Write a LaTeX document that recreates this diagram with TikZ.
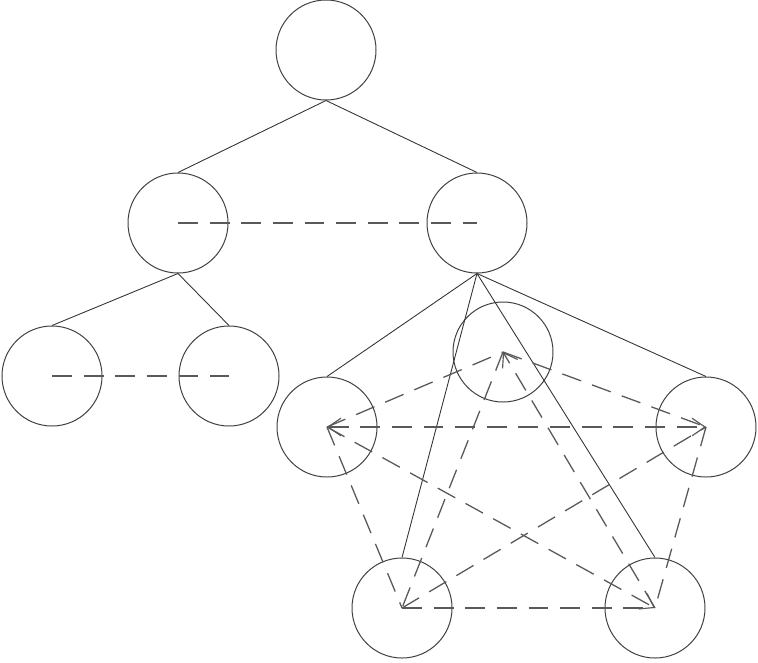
\documentclass[tikz,border=0pt]{standalone}
\usetikzlibrary{arrows.meta}
\begin{document}
\begin{tikzpicture}[x=0.03cm,y=-0.03cm,
  vert/.style={circle,draw=black!75,line width=0.85pt,minimum size=3cm,inner sep=0pt},
  tree/.style={draw=black!80,line width=0.75pt},
  rel/.style={draw=black!65,line width=1.1pt,dash pattern=on 17pt off 10pt},
  tip/.style={-{Straight Barb[length=11pt,width=15pt,line width=1pt]}},
  tips/.style={{Straight Barb[length=11pt,width=15pt,line width=1pt]}-{Straight Barb[length=11pt,width=15pt,line width=1pt]}}]
\useasboundingbox (0,0) rectangle (758,662);
% tree nodes
\node[vert] (A) at (326,50) {};
\node[vert] (B) at (178,223) {};
\node[vert] (C) at (477,223) {};
\node[vert] (D) at (52,376) {};
\node[vert] (E) at (229,376) {};
% pentagon nodes
\node[vert] (T) at (503,352) {};
\node[vert] (L) at (327,427) {};
\node[vert] (R) at (706,427) {};
\node[vert] (P) at (402,608) {};
\node[vert] (Q) at (655,608) {};
% tree edges
\draw[tree] (A.south) -- (B.north);
\draw[tree] (A.south) -- (C.north);
\draw[tree] (B.south) -- (D.north);
\draw[tree] (B.south) -- (E.north);
\draw[tree] (C.south) -- (L.north);
\draw[tree] (C.south) -- (P.north);
\draw[tree] (C.south) -- (Q.north);
\draw[tree] (C.south) -- (R.north);
% dashed relations
\draw[rel] (B.center) -- (C.center);
\draw[rel] (D.center) -- (E.center);
\draw[rel,tips] (L.center) -- (R.center);
\draw[rel,tip] (Q.center) -- (T.center);
\draw[rel,tip] (L.center) -- (Q.center);
\draw[rel] (L.center) -- (T.center);
\draw[rel] (T.center) -- (R.center);
\draw[rel] (T.center) -- (P.center);
\draw[rel] (L.center) -- (P.center);
\draw[rel] (P.center) -- (R.center);
\draw[rel] (R.center) -- (Q.center);
\draw[rel] (P.center) -- (Q.center);
\end{tikzpicture}
\end{document}
